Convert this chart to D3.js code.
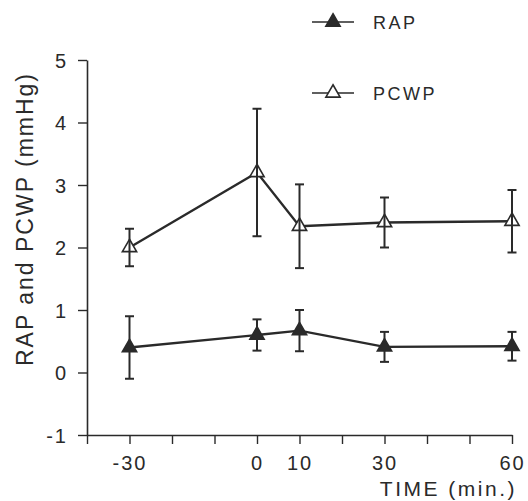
<!DOCTYPE html>
<html>
<head>
<meta charset="utf-8">
<script src="https://cdn.jsdelivr.net/npm/d3@7"></script>
<style>
  body { margin: 0; background: #fff; }
  svg text { font-family: "Liberation Sans", Arial, sans-serif; fill: #2a2a2a; }
</style>
</head>
<body>
<svg id="chart" width="528" height="501"></svg>
<script>
// values
var times = [-30, 0, 10, 30, 60];
var rapMean = [0.40, 0.60, 0.67, 0.41, 0.42];
var rapErr = [0.50, 0.25, 0.33, 0.24, 0.23];
var pcwpMean = [2.00, 3.20, 2.34, 2.40, 2.42];
var pcwpErr = [0.30, 1.02, 0.67, 0.40, 0.50];

var xTicks = [-40, -30, -20, -10, 0, 10, 20, 30, 40, 50, 60];
var xLabels = [-30, 0, 10, 30, 60];
var yTicks = [-1, 0, 1, 2, 3, 4, 5];
var seriesNames = ["RAP", "PCWP"];

var ink = "#2a2a2a";
var svg = d3.select("#chart");

var x = d3.scaleLinear().domain([-40, 60]).range([87, 512]);
var y = d3.scaleLinear().domain([-1, 5]).range([435, 60]);

// axes
var xAxis = d3.axisBottom(x)
    .tickValues(xTicks)
    .tickSize(9)
    .tickSizeOuter(0)
    .tickPadding(8)
    .tickFormat(function(d) { return xLabels.indexOf(d) >= 0 ? String(d) : ""; });

var gx = svg.append("g")
    .attr("transform", "translate(0," + y(-1) + ")")
    .call(xAxis);

var yAxis = d3.axisLeft(y)
    .tickValues(yTicks)
    .tickSize(9)
    .tickSizeOuter(0)
    .tickPadding(10)
    .tickFormat(function(d) { return String(d); });

var gy = svg.append("g")
    .attr("transform", "translate(" + x(-40) + ",0)")
    .call(yAxis);

[gx, gy].forEach(function(g) {
  g.select(".domain").attr("stroke", ink).attr("stroke-width", 1.6);
  g.selectAll(".tick line").attr("stroke", ink).attr("stroke-width", 1.4);
  g.selectAll(".tick text")
    .attr("font-size", 20)
    .attr("letter-spacing", 2)
    .attr("fill", ink)
    .style("font-family", "Liberation Sans, Arial, sans-serif");
});
gx.selectAll(".tick text").attr("dy", "0.9em");
gy.selectAll(".tick text").attr("dy", "0.36em");

// axis titles
svg.append("text")
    .attr("x", 517)
    .attr("y", 496)
    .attr("text-anchor", "end")
    .attr("font-size", 21)
    .attr("letter-spacing", 2.5)
    .text("TIME (min.)");

svg.append("text")
    .attr("transform", "translate(33,219) rotate(-90)")
    .attr("text-anchor", "middle")
    .attr("font-size", 23)
    .attr("letter-spacing", 2)
    .text("RAP and PCWP (mmHg)");

// series
var series = [
  { name: seriesNames[0], mean: rapMean, err: rapErr, fill: ink },
  { name: seriesNames[1], mean: pcwpMean, err: pcwpErr, fill: "#fff" }
];

var tri = d3.symbol().type(d3.symbolTriangle).size(88);
var line = d3.line()
    .x(function(d) { return x(d.t); })
    .y(function(d) { return y(d.v); });

series.forEach(function(s) {
  var pts = times.map(function(t, i) { return { t: t, v: s.mean[i], e: s.err[i] }; });

  svg.append("path")
      .datum(pts)
      .attr("d", line)
      .attr("fill", "none")
      .attr("stroke", ink)
      .attr("stroke-width", 2.3);

  svg.selectAll(null)
      .data(pts)
      .enter()
      .append("path")
      .attr("d", tri)
      .attr("transform", function(d) { return "translate(" + x(d.t) + "," + y(d.v) + ")"; })
      .attr("fill", s.fill)
      .attr("stroke", ink)
      .attr("stroke-width", 1.6);

  var eb = svg.selectAll(null)
      .data(pts)
      .enter()
      .append("g")
      .attr("stroke", ink)
      .attr("stroke-width", 2);

  eb.append("line")
      .attr("x1", function(d) { return x(d.t); })
      .attr("x2", function(d) { return x(d.t); })
      .attr("y1", function(d) { return y(d.v + d.e); })
      .attr("y2", function(d) { return y(d.v - d.e); });

  eb.append("line")
      .attr("x1", function(d) { return x(d.t) - 4.5; })
      .attr("x2", function(d) { return x(d.t) + 4.5; })
      .attr("y1", function(d) { return y(d.v + d.e); })
      .attr("y2", function(d) { return y(d.v + d.e); });

  eb.append("line")
      .attr("x1", function(d) { return x(d.t) - 4.5; })
      .attr("x2", function(d) { return x(d.t) + 4.5; })
      .attr("y1", function(d) { return y(d.v - d.e); })
      .attr("y2", function(d) { return y(d.v - d.e); });
});

// legend
var legend = svg.selectAll(".legend")
    .data(series)
    .enter()
    .append("g")
    .attr("class", "legend")
    .attr("transform", function(d, i) { return "translate(312," + (22 + i * 71) + ")"; });

legend.append("line")
    .attr("x1", 0)
    .attr("x2", 42)
    .attr("stroke", ink)
    .attr("stroke-width", 1.6);

legend.append("path")
    .attr("d", tri)
    .attr("transform", "translate(21,0)")
    .attr("fill", function(d) { return d.fill; })
    .attr("stroke", ink)
    .attr("stroke-width", 1.6);

legend.append("text")
    .attr("x", 61)
    .attr("y", 7)
    .attr("font-size", 18)
    .attr("letter-spacing", 2.5)
    .text(function(d) { return d.name; });
</script>
</body>
</html>
